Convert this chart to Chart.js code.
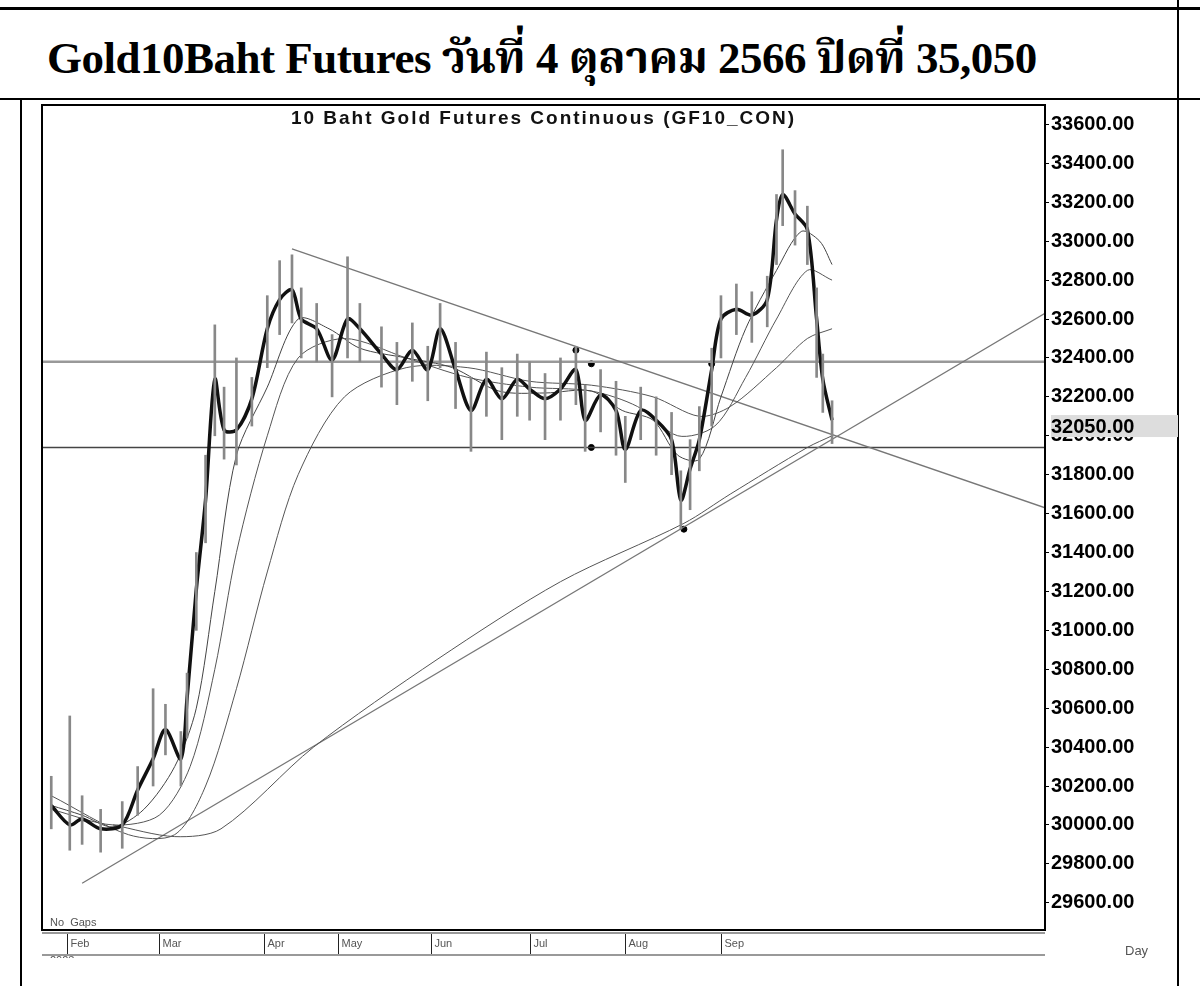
<!DOCTYPE html>
<html><head><meta charset="utf-8">
<script src="https://cdn.jsdelivr.net/npm/chart.js@4"></script>
<style>
body{margin:0;background:#fff;width:1200px;height:986px;position:relative;overflow:hidden;font-family:Arial,"Liberation Sans",sans-serif}
.ln{position:absolute;background:#000}
#title{position:absolute;left:20px;top:12px;width:1158px;height:86px;line-height:92px;font-family:"Liberation Serif","Noto Serif Thai","Noto Sans",serif;font-weight:bold;font-size:45px;padding-left:27px;box-sizing:border-box;white-space:nowrap;letter-spacing:-0.5px}
#sub{position:absolute;left:42px;top:107px;width:1003px;text-align:center;font-weight:bold;font-size:19px;letter-spacing:2px;color:#111}
#wrap{position:absolute;left:20px;top:91px;width:1158px;height:867px}
</style></head><body>
<div class="ln" style="left:0;top:7px;width:1200px;height:3px"></div>
<div class="ln" style="left:0;top:98px;width:1200px;height:2px"></div>
<div class="ln" style="left:20px;top:98px;width:2px;height:888px"></div>
<div class="ln" style="left:1177px;top:0;width:2px;height:986px"></div>
<div id="title">Gold10Baht Futures วันที่ 4 ตุลาคม 2566 ปิดที่ 35,050</div>
<div id="wrap"><canvas id="c"></canvas></div>
<div id="sub">10 Baht Gold Futures Continuous (GF10_CON)</div>
<script>
const days   =[-5,1,5,11,18,23,28,32,37,39,42,45,48,51,55,60,65,69,73,76,81,86,91,95,102,107,112,117,121,126,131,136,141,146,150,155,160,165,168,173,178,181,186,191,196,199,202,205,209,212,217,222,227,230,232,236,240,243,245,248];
const closes =[30100,30000,30030,29980,30000,30180,30340,30490,30340,30650,31210,31670,32290,32030,32030,32190,32550,32700,32750,32600,32550,32390,32600,32550,32420,32340,32440,32340,32550,32340,32130,32290,32190,32290,32240,32190,32240,32340,32080,32210,32130,31930,32130,32080,31980,31670,31830,31980,32340,32600,32650,32620,32700,33110,33240,33140,33060,32600,32290,32080];
const highs  =[30250,30560,30150,30080,30120,30300,30700,30620,30480,30780,31400,31900,32570,32250,32400,32300,32720,32900,32930,32760,32680,32520,32920,32680,32560,32480,32580,32460,32680,32480,32300,32430,32350,32420,32380,32320,32400,32460,32260,32340,32280,32100,32250,32200,32120,31820,31980,32150,32450,32720,32780,32740,32820,33240,33470,33260,33180,32760,32420,32180];
const lows   =[29980,29870,29900,29860,29880,30050,30200,30360,30200,30450,31000,31450,32000,31880,31850,32050,32350,32520,32580,32400,32380,32200,32400,32380,32250,32160,32280,32180,32350,32140,31920,32100,31980,32100,32080,31980,32080,32160,31920,32020,31900,31760,31980,31900,31800,31520,31620,31820,32050,32400,32520,32480,32560,32880,33080,32980,32880,32300,32120,31960];
const maFastDays=[-5,5,15,25,35,42,48,55,65,75,85,95,110,125,140,155,170,180,190,198,205,212,220,230,238,244,248];
const maFast=[30100,30050,29990,30080,30300,30600,31200,31900,32250,32600,32550,32450,32400,32350,32230,32220,32230,32130,32080,31900,31880,32200,32550,32850,33050,33000,32880];
const maMidDays=[-5,15,30,40,48,55,65,75,90,110,130,150,170,185,198,210,220,230,240,248];
const maMid=[30080,30000,30050,30300,30800,31400,32000,32400,32500,32400,32300,32250,32230,32150,32000,32050,32300,32600,32850,32800];
const maSlowDays=[-5,20,35,45,55,65,75,90,110,130,150,170,190,205,215,230,240,248];
const maSlow=[30150,29950,29950,30200,30700,31300,31800,32200,32350,32350,32280,32260,32200,32100,32150,32350,32500,32550];
const maLongDays=[15,35,50,80,120,160,200,215,240,248];
const maLong=[30000,29940,29980,30400,30850,31250,31550,31700,31940,32000];
const upTrend=[[5,29700],[317,32630]];
const downTrend=[[73,32960],[317,31630]];
const hLines=[32380,31940];
const markDays=[165,170,170,200,209];
const markVals=[32440,32370,31940,31520,32370];
const monthDays=[0,30,64,88,118,150,181,212];
const monthLabels=['Feb','Mar','Apr','May','Jun','Jul','Aug','Sep'];
const yTicks=[29600,29800,30000,30200,30400,30600,30800,31000,31200,31400,31600,31800,32000,32200,32400,32600,32800,33000,33200,33400,33600];
const lastPrice=32050;

const pts=(d,v)=>d.map((x,i)=>({x,y:v[i]}));
const line=(data,c,w)=>({type:'line',data,borderColor:c,borderWidth:w,pointRadius:0,tension:0.3,fill:false});
const ds=[
 {type:'bar',data:days.map((x,i)=>({x,y:[lows[i],highs[i]]})),backgroundColor:'#888',barThickness:2,grouped:false},
 line(pts(days,closes),'#111',3.5),
 line(pts(maFastDays,maFast),'#444',1),
 line(pts(maMidDays,maMid),'#555',1),
 line(pts(maSlowDays,maSlow),'#555',1),
 line(pts(maLongDays,maLong),'#555',1),
 {...line(upTrend.map(p=>({x:p[0],y:p[1]})),'#777',1.3),tension:0},
 {...line(downTrend.map(p=>({x:p[0],y:p[1]})),'#777',1.3),tension:0},
 ...hLines.map((h,i)=>({...line([{x:-8,y:h},{x:317,y:h}],i?'#444':'#999',i?1.5:2.5),tension:0})),
 {type:'scatter',data:pts(markDays,markVals),pointRadius:3,backgroundColor:'#000',borderColor:'#000'}
];
const deco={id:'deco',afterDraw(ch){const c=ch.ctx,a=ch.chartArea,y=ch.scales.y,x=ch.scales.x;
 c.save();c.strokeStyle='#000';c.lineWidth=2;c.strokeRect(a.left,a.top,a.right-a.left,a.bottom-a.top);
 c.fillStyle='#555';c.font='11px Arial';c.textAlign='left';c.fillText('No  Gaps',a.left+8,a.bottom-4);
 c.strokeStyle='#999';c.lineWidth=2;c.beginPath();c.moveTo(a.left,a.bottom+3);c.lineTo(a.right,a.bottom+3);
 c.moveTo(a.left,a.bottom+25);c.lineTo(a.right,a.bottom+25);c.stroke();
 c.strokeStyle='#222';c.lineWidth=1;c.textBaseline='middle';
 monthDays.forEach((d,i)=>{const px=Math.round(x.getPixelForValue(d))+0.5;c.beginPath();c.moveTo(px,a.bottom+4);c.lineTo(px,a.bottom+24);c.stroke();
  c.fillText(monthLabels[i],px+3,a.bottom+14);});
 c.fillText('2023',a.left+8,a.bottom+31);
 c.font='13px Arial';c.fillText('Day',1105,a.bottom+21);
 const py=y.getPixelForValue(lastPrice);c.fillStyle='#ddd';c.fillRect(a.right+6,py-11,130,22);
 c.fillStyle='#000';c.font='bold 20px Arial';c.fillText('32050.00',a.right+6,py+1);
 c.restore();}};
new Chart(document.getElementById('c'),{type:'line',data:{datasets:ds},plugins:[deco],
options:{responsive:true,maintainAspectRatio:false,animation:false,layout:{padding:{left:22,top:0,bottom:0,right:0}},
 plugins:{legend:{display:false},tooltip:{enabled:false}},
 scales:{
  x:{type:'linear',offset:false,min:-8,max:317,afterBuildTicks:s=>{s.ticks=monthDays.map(v=>({value:v}))},
     grid:{display:false},border:{display:false},ticks:{display:false},
     afterFit:s=>{s.height=28}},
  y:{position:'right',min:29460,max:33700,afterBuildTicks:s=>{s.ticks=yTicks.map(v=>({value:v}))},
     grid:{drawOnChartArea:false,color:'#000',tickLength:4},border:{display:false},
     ticks:{color:'#000',font:{size:20,weight:'bold',family:'Arial'},padding:2,callback:v=>v.toFixed(2)},
     afterFit:s=>{s.width=133}}
 }}});
</script></body></html>
